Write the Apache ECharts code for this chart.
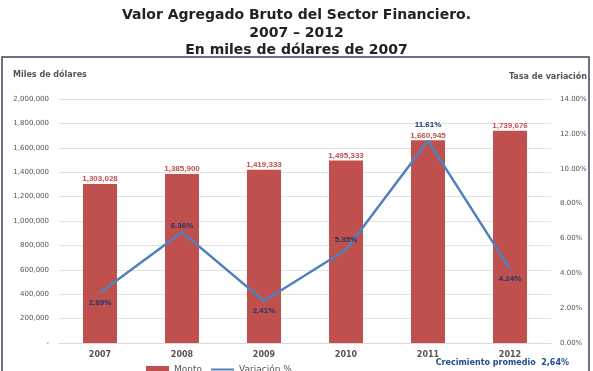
<!DOCTYPE html>
<html>
<head>
<meta charset="utf-8">
<script src="https://cdn.jsdelivr.net/npm/echarts@6/dist/echarts.min.js"></script>
<style>
  html, body { margin: 0; padding: 0; background: #fff; }
  #chart { width: 593px; height: 371px; }
</style>
</head>
<body>
<div id="chart"></div>
<script>
var years = ['2007', '2008', '2009', '2010', '2011', '2012'];
var monto = [1303028, 1385900, 1419333, 1495333, 1660945, 1739676];
var variacion = [2.89, 6.36, 2.41, 5.35, 11.61, 4.24];
var labelPos = ['bottom', 'top', 'bottom', 'top', 'top', 'bottom'];
var labelDist = [5, 1, 5, 5, 11, 5];

function fmtMiles(v) {
    if (v === 0) return '-';
    return String(v).replace(/\B(?=(\d{3})+(?!\d))/g, ',');
}

var myChart = echarts.init(document.getElementById('chart'));
var option = {
    animation: false,
    backgroundColor: '#fff',
    textStyle: { fontFamily: 'Liberation Sans, Arial, sans-serif' },
    title: {
        text: 'Valor Agregado Bruto del Sector Financiero.\n2007 – 2012\nEn miles de dólares de 2007',
        left: 'center',
        top: 2,
        textStyle: { fontSize: 14, fontWeight: 'bold', color: '#222', lineHeight: 17.5, fontFamily: 'DejaVu Sans' }
    },
    graphic: [
        {
            type: 'rect',
            shape: { x: 2, y: 57, width: 587, height: 318 },
            style: { fill: 'none', stroke: '#3b4560', lineWidth: 1.5 }
        },
        {
            type: 'text', left: 13, top: 71,
            style: { text: 'Miles de dólares', fontSize: 8, fontWeight: 'bold', fill: '#555', fontFamily: 'DejaVu Sans' }
        },
        {
            type: 'text', right: 6, top: 73,
            style: { text: 'Tasa de variación', fontSize: 8, fontWeight: 'bold', fill: '#555', fontFamily: 'DejaVu Sans' }
        },
        {
            type: 'text', right: 24, top: 359,
            style: { text: 'Crecimiento promedio  2,64%', fontSize: 8, fontWeight: 'bold', fill: '#1f4e8c', fontFamily: 'DejaVu Sans' }
        }
    ],
    legend: {
        left: 141, top: 360,
        itemWidth: 23, itemHeight: 7, itemGap: 8,
        textStyle: { fontSize: 9, color: '#555', fontFamily: 'DejaVu Sans' },
        data: [
            { name: 'Monto', icon: 'rect' },
            { name: 'Variación %', itemStyle: { opacity: 0 } }
        ]
    },
    grid: { left: 59, right: 42, top: 99, bottom: 28 },
    xAxis: {
        type: 'category',
        data: years,
        axisTick: { show: false },
        axisLine: { lineStyle: { color: '#d9d9d9' } },
        axisLabel: { fontSize: 8, color: '#555', margin: 8, fontWeight: 'bold', fontFamily: 'DejaVu Sans' }
    },
    yAxis: [
        {
            type: 'value', min: 0, max: 2000000, interval: 200000,
            axisLabel: { fontSize: 7, color: '#555', margin: 10, formatter: fmtMiles, fontFamily: 'DejaVu Sans' },
            splitLine: { lineStyle: { color: '#e3e3e3' } }
        },
        {
            type: 'value', min: 0, max: 14, interval: 2,
            axisLabel: { fontSize: 7, color: '#555', margin: 9, formatter: function (v) { return v.toFixed(2) + '%'; }, fontFamily: 'DejaVu Sans' },
            splitLine: { show: false }
        }
    ],
    series: [
        {
            name: 'Monto',
            type: 'bar',
            data: monto,
            barWidth: 34,
            itemStyle: { color: '#c0504d' },
            label: {
                show: true, position: 'top', distance: 1,
                fontSize: 8, fontWeight: 'bold', color: '#c0504d',
                formatter: function (p) { return fmtMiles(p.value); }
            }
        },
        {
            name: 'Variación %',
            type: 'line',
            yAxisIndex: 1,
            data: variacion.map(function (v, i) {
                return { value: v, label: { position: labelPos[i], distance: labelDist[i] } };
            }),
            symbol: 'circle',
            symbolSize: 2,
            showSymbol: true,
            lineStyle: { color: '#4f81bd', width: 2.5 },
            itemStyle: { color: 'rgba(79,129,189,0)', borderWidth: 0 },
            label: {
                show: true, fontSize: 8, fontWeight: 'bold', color: '#1f3864',
                formatter: function (p) { return p.value.toFixed(2) + '%'; }
            }
        }
    ]
};
myChart.setOption(option);
window.onresize = myChart.resize;
</script>
</body>
</html>
